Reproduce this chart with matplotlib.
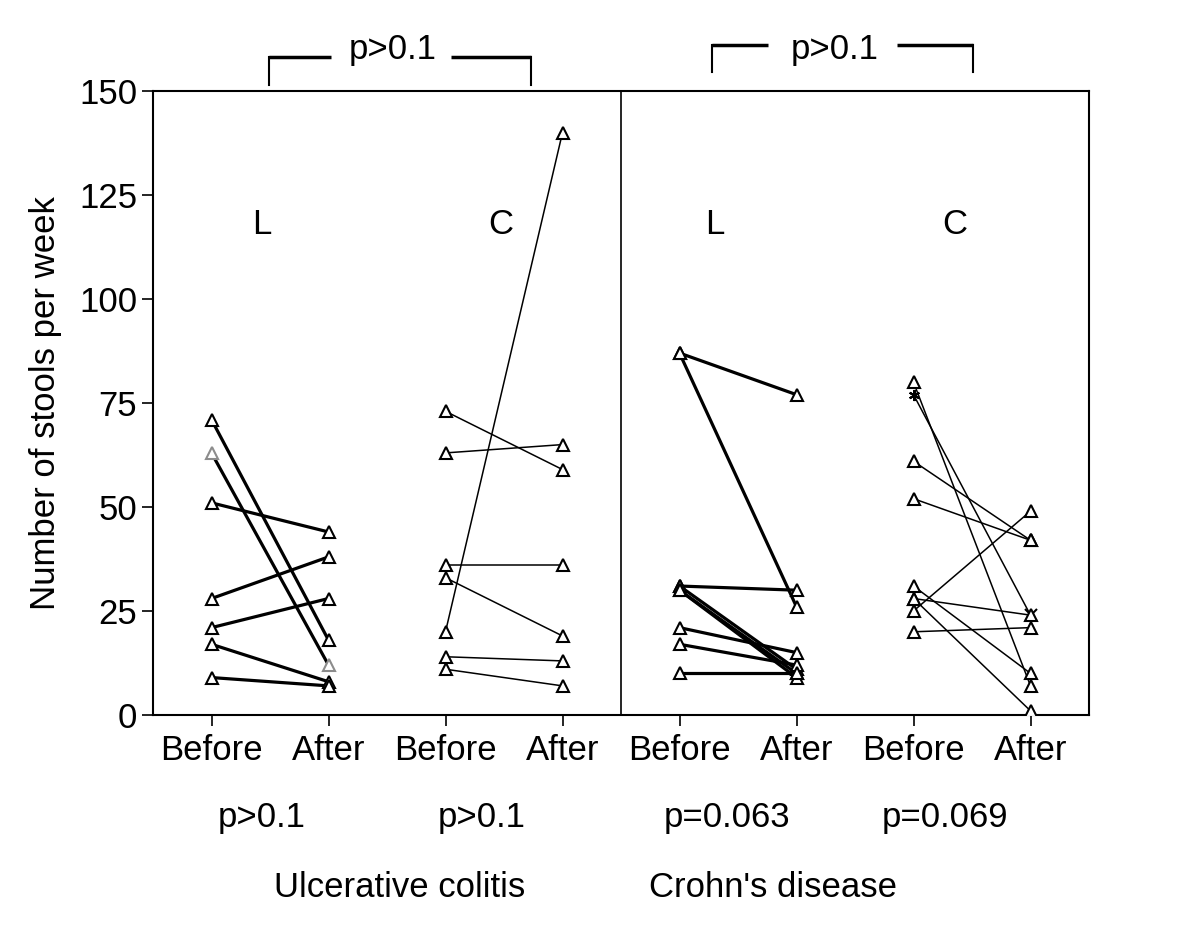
import matplotlib
matplotlib.use('Agg')
import matplotlib.pyplot as plt

plt.rcParams['font.family'] = ['Liberation Sans', 'DejaVu Sans']

# stools per week, one entry per patient: before / after
uc_l_before = [71, 63, 51, 28, 21, 17, 9]
uc_l_after = [18, 12, 44, 38, 28, 8, 7]
uc_c_before = [73, 63, 36, 33, 20, 14, 11]
uc_c_after = [59, 65, 36, 19, 140, 13, 7]
cd_l_before = [87, 87, 31, 31, 30, 30, 21, 17, 10]
cd_l_after = [77, 26, 30, 11, 10, 9, 15, 12, 10]
cd_c_before = [80, 77, 61, 52, 31, 28, 28, 25, 20]
cd_c_after = [7, 24, 42, 42, 10, 24, 1, 49, 21]

tick_labels = ['Before', 'After'] * 4
group_labels = ['L', 'C', 'L', 'C']
pair_p = ['p>0.1', 'p>0.1', 'p=0.063', 'p=0.069']
disease_labels = ['Ulcerative colitis', "Crohn's disease"]
between_p = ['p>0.1', 'p>0.1']

groups = [(uc_l_before, uc_l_after, 2.3), (uc_c_before, uc_c_after, 1.1),
          (cd_l_before, cd_l_after, 2.3), (cd_c_before, cd_c_after, 1.1)]

fs = 25

fig = plt.figure(figsize=(12, 9.35), dpi=100)
ax = fig.add_axes([0.1275, 0.2353, 0.78, 0.6674])

for g, (bef, aft, lw) in enumerate(groups):
    xb = 1 + 2 * g
    xa = xb + 1
    for i, (b, a) in enumerate(zip(bef, aft)):
        col = 'black'
        mb = ma = '^'
        if g == 0 and i == 1:
            col = '#8c8c8c'
        if g == 3 and i == 1:
            mb, ma = (6, 2, 0), 'x'
        ax.plot([xb, xa], [b, a], color='black', lw=lw, zorder=2)
        ax.plot([xb], [b], marker=mb, ms=8, mfc='white', mec=col, mew=1.5,
                ls='none', zorder=3)
        ax.plot([xa], [a], marker=ma, ms=8, mfc='white', mec=col, mew=1.5,
                ls='none', zorder=3)

ax.axvline(4.5, color='black', lw=1.2)

ax.set_xlim(0.5, 8.5)
ax.set_ylim(0, 150)
ax.set_yticks([0, 25, 50, 75, 100, 125, 150])
ax.set_xticks(range(1, 9))
ax.set_xticklabels(tick_labels)
ax.tick_params(axis='both', labelsize=fs, length=8, width=1.2, direction='out')
ax.tick_params(axis='x', pad=6)
for sp in ax.spines.values():
    sp.set_linewidth(1.5)
ax.set_ylabel('Number of stools per week', fontsize=fs, labelpad=12)

# L / C labels inside the plot
for x, t in zip([1.43, 3.47, 5.3, 7.35], group_labels):
    ax.text(x, 118, t, fontsize=fs, ha='center', va='center')

trans = ax.get_xaxis_transform()
for x, t in zip([1.43, 3.31, 5.41, 7.27], pair_p):
    ax.text(x, -0.165, t, fontsize=fs, ha='center', va='center', transform=trans)
for x, t in zip([2.61, 5.8], disease_labels):
    ax.text(x, -0.277, t, fontsize=fs, ha='center', va='center', transform=trans)

# brackets comparing L vs C above the plot
brackets = [(1.49, 2.02, 2.55, 3.05, 3.73, 158.2, 151.4),
            (5.28, 5.76, 6.33, 6.86, 7.51, 161.1, 154.6)]
for (x0, x1, xt, x2, x3, ytop, ybot), t in zip(brackets, between_p):
    ax.plot([x0, x0], [ybot, ytop], color='black', lw=1.5, clip_on=False)
    ax.plot([x0, x1], [ytop, ytop], color='black', lw=2.5, clip_on=False,
            solid_capstyle='butt')
    ax.plot([x2, x3], [ytop, ytop], color='black', lw=2.5, clip_on=False,
            solid_capstyle='butt')
    ax.plot([x3, x3], [ybot, ytop], color='black', lw=1.5, clip_on=False)
    ax.text(xt, 159.9, t, fontsize=fs, ha='center', va='center')

fig.savefig('out.png', dpi=100)
